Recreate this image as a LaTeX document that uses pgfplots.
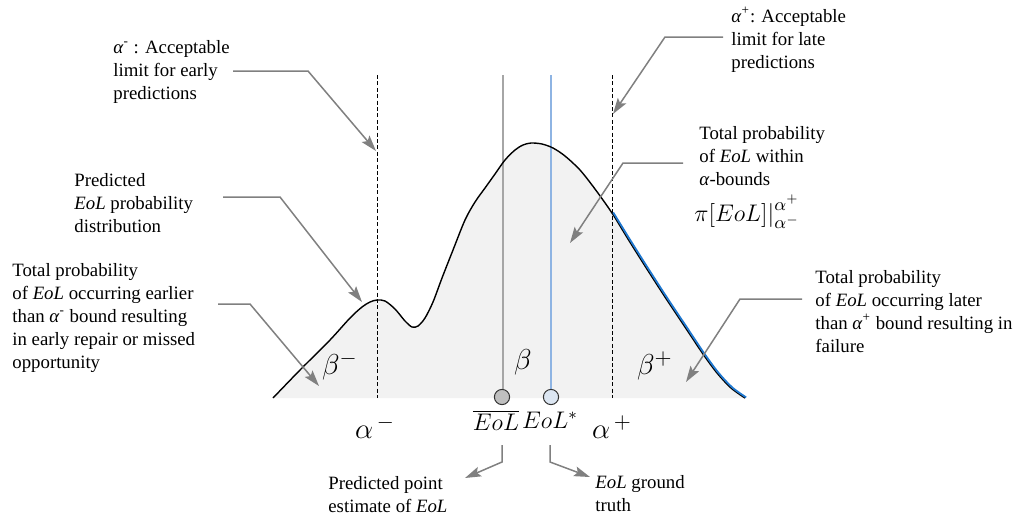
\documentclass[border=0pt]{standalone}
\usepackage{fontspec}
\setmainfont{Liberation Serif}
\usepackage{pgfplots}
\pgfplotsset{compat=1.18}
\usetikzlibrary{arrows.meta}
\definecolor{fillgray}{HTML}{F2F2F2}
\definecolor{annot}{HTML}{808080}
\definecolor{eolgray}{HTML}{A6A6A6}
\definecolor{eolblue}{HTML}{8EB4E3}
\definecolor{tailblue}{HTML}{1F78D0}
\definecolor{dotgray}{HTML}{BFBFBF}
\definecolor{dotblue}{HTML}{DCE6F2}

% predicted EoL density, traced in picture pixels (y grows downwards)
\pgfplotstableread{
x y
273 398
300 370
330 340
350 318
362 307
370 302
377 300
385 301
395 309
405 321
412 327
418 326
425 318
433 302
442 278
453 250
465 220
475 202
485 188
495 174
505 160
515 150
523 145
531 143
542 144
553 148
565 156
580 170
595 189
612 213
628 239
645 266
665 297
685 327
703 354
717 373
731 388
745 398
}\density

\tikzset{annot/.style={draw=annot, line width=0.75pt, -{Stealth[length=8pt,width=5pt,inset=1.5pt]}}}
\newcommand{\lbl}{\fontsize{9.4}{11.5}\selectfont}

\begin{document}
\begin{tikzpicture}
\begin{axis}[
    width=509.5pt, height=258pt, scale only axis,
    xmin=0, xmax=1019, ymin=0, ymax=516,
    y dir=reverse,
    hide axis, clip=false,
]
\path (rel axis cs:0,0) rectangle (rel axis cs:1,1);

% area under the density
\addplot[draw=none, fill=fillgray, smooth] table {\density} -- cycle;

% alpha bounds
\addplot[black, line width=0.5pt, dash pattern=on 2pt off 1.2pt] coordinates {(377,75) (377,398)};
\addplot[black, line width=0.5pt, dash pattern=on 2pt off 1.2pt] coordinates {(612,75) (612,398)};

% predicted point estimate and ground truth
\addplot[eolgray, line width=0.6pt] coordinates {(503,75) (503,390)};
\addplot[eolblue, line width=0.6pt] coordinates {(551,75) (551,390)};

% density curve, with the late tail in blue
\addplot[black, line width=0.7pt, smooth] table {\density};
\addplot[tailblue, line width=0.9pt, smooth, xshift=0.6pt, yshift=0.3pt, restrict x to domain=612:745] table {\density};

\addplot[only marks, mark=*, mark size=3.8pt, mark options={fill=dotgray, draw=black!80, line width=0.5pt}] coordinates {(502,397)};
\addplot[only marks, mark=*, mark size=3.8pt, mark options={fill=dotblue, draw=black!80, line width=0.5pt}] coordinates {(551,397)};

% annotation arrows
\draw[annot] (axis cs:233,71) -- (axis cs:308,71) -- (axis cs:376,151);
\draw[annot] (axis cs:723,37) -- (axis cs:665,37) -- (axis cs:613,114);
\draw[annot] (axis cs:683,163) -- (axis cs:623,163) -- (axis cs:570,243);
\draw[annot] (axis cs:223,197) -- (axis cs:280,197) -- (axis cs:362,302);
\draw[annot] (axis cs:218,304) -- (axis cs:250,304) -- (axis cs:319,386);
\draw[annot] (axis cs:802,299) -- (axis cs:740,299) -- (axis cs:686,382);
\draw[annot] (axis cs:502,445) -- (axis cs:502,462) -- (axis cs:465,478);
\draw[annot] (axis cs:550,445) -- (axis cs:550,462) -- (axis cs:590,477);

% annotation texts
\node[anchor=north west, align=left, inner sep=0pt, font=\lbl] at (axis cs:113,40)
  {\textit{α}\textsuperscript{-} : Acceptable\\limit for early\\predictions};
\node[anchor=north west, align=left, inner sep=0pt, font=\lbl] at (axis cs:731,7)
  {\textit{α}\textsuperscript{+}: Acceptable\\limit for late\\predictions};
\node[anchor=north west, align=left, inner sep=0pt, font=\lbl] at (axis cs:699,126)
  {Total probability\\of \textit{EoL} within\\\textit{α}-bounds};
\node[anchor=west, inner sep=0pt, font=\fontsize{13}{15}\selectfont] at (axis cs:694,212)
  {$\pi[EoL]\big|_{\alpha^{-}}^{\alpha^{+}}$};
\node[anchor=north west, align=left, inner sep=0pt, font=\lbl] at (axis cs:74,173)
  {Predicted\\\textit{EoL} probability\\distribution};
\node[anchor=north west, align=left, inner sep=0pt, font=\lbl] at (axis cs:12,263)
  {Total probability\\of \textit{EoL} occurring earlier\\than \textit{α}\textsuperscript{-} bound resulting\\in early repair or missed\\opportunity};
\node[anchor=north west, align=left, inner sep=0pt, font=\lbl] at (axis cs:815,270)
  {Total probability\\of \textit{EoL} occurring later\\than \textit{α}\textsuperscript{+} bound resulting in\\failure};
\node[anchor=north west, align=left, inner sep=0pt, font=\lbl] at (axis cs:328,476)
  {Predicted point\\estimate of \textit{EoL}};
\node[anchor=north west, align=left, inner sep=0pt, font=\lbl] at (axis cs:595,475)
  {\textit{EoL} ground\\truth};

% symbols on the plot
\node[font=\fontsize{15}{17}\selectfont] at (axis cs:340,366) {$\beta^{-}$};
\node[font=\fontsize{15}{17}\selectfont] at (axis cs:523,362) {$\beta$};
\node[font=\fontsize{15}{17}\selectfont] at (axis cs:655,366) {$\beta^{+}$};
\node[font=\fontsize{15}{17}\selectfont] at (axis cs:375,427) {$\alpha^{\,-}$};
\node[font=\fontsize{15}{17}\selectfont] at (axis cs:612,427) {$\alpha^{\,+}$};
\node[font=\fontsize{11.5}{13}\selectfont] at (axis cs:496,420) {$\overline{EoL}$};
\node[font=\fontsize{11.5}{13}\selectfont] at (axis cs:550,420) {$EoL^{*}$};
\end{axis}
\end{tikzpicture}
\end{document}
